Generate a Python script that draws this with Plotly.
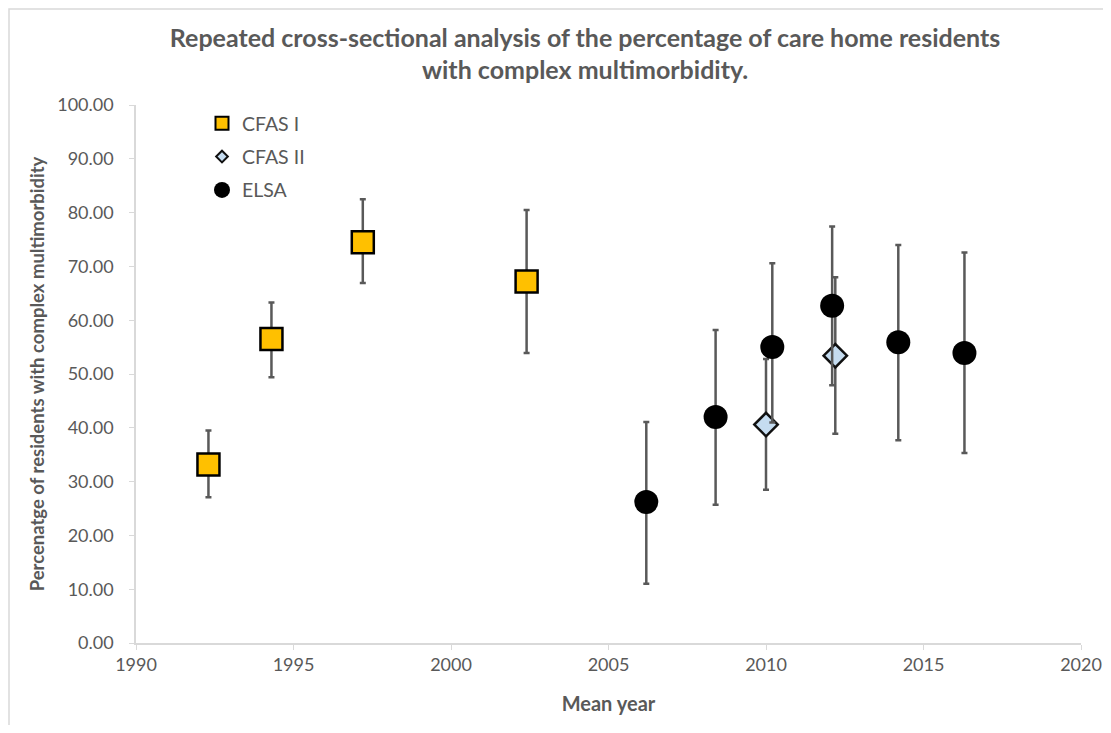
import plotly.graph_objects as go

# CFAS I
cfas1_year = [1992.3, 1994.3, 1997.2, 2002.4]
cfas1_pct = [33.2, 56.5, 74.5, 67.2]
cfas1_hi = [39.5, 63.3, 82.5, 80.5]
cfas1_lo = [27.1, 49.4, 66.9, 53.9]

# CFAS II
cfas2_year = [2010.0, 2012.2]
cfas2_pct = [40.6, 53.4]
cfas2_hi = [52.8, 68.0]
cfas2_lo = [28.5, 38.9]

# ELSA
elsa_year = [2006.2, 2008.4, 2010.2, 2012.1, 2014.2, 2016.3]
elsa_pct = [26.2, 42.0, 55.0, 62.7, 55.9, 53.9]
elsa_hi = [41.1, 58.2, 70.6, 77.4, 74.0, 72.6]
elsa_lo = [11.0, 25.7, 41.0, 47.9, 37.7, 35.3]

x_ticks = [1990, 1995, 2000, 2005, 2010, 2015, 2020]
y_ticks = [0, 10, 20, 30, 40, 50, 60, 70, 80, 90, 100]

FONT = "Lato, 'Open Sans', sans-serif"
GREY = "#595959"
ERR = "#595959"


def err(vals, hi, lo):
    return dict(
        type="data", symmetric=False,
        array=[h - v for h, v in zip(hi, vals)],
        arrayminus=[v - l for v, l in zip(vals, lo)],
        color=ERR, thickness=2.5, width=3,
    )


SQ = dict(symbol="square", color="#FFC000")
DI = dict(symbol="diamond", color="#C5DCF0")
CI = dict(symbol="circle", color="#000000")

fig = go.Figure()
fig.add_trace(go.Scatter(
    x=cfas1_year, y=cfas1_pct, mode="markers", name="CFAS I", showlegend=False,
    error_y=err(cfas1_pct, cfas1_hi, cfas1_lo),
    marker=dict(**SQ, size=22, line=dict(color="#000000", width=2.5)),
))
fig.add_trace(go.Scatter(
    x=cfas2_year, y=cfas2_pct, mode="markers", name="CFAS II", showlegend=False,
    error_y=err(cfas2_pct, cfas2_hi, cfas2_lo),
    marker=dict(**DI, size=18, line=dict(color="#111111", width=2.5)),
))
fig.add_trace(go.Scatter(
    x=elsa_year, y=elsa_pct, mode="markers", name="ELSA", showlegend=False,
    error_y=err(elsa_pct, elsa_hi, elsa_lo),
    marker=dict(**CI, size=24, line=dict(color="#000000", width=0)),
))

# legend entries
fig.add_trace(go.Scatter(x=[None], y=[None], mode="markers", name="CFAS I", legendgroup="a",
                         marker=dict(**SQ, size=13, line=dict(color="#000000", width=2))))
fig.add_trace(go.Scatter(x=[None], y=[None], mode="markers", name="CFAS II", legendgroup="b",
                         marker=dict(**DI, size=9, line=dict(color="#111111", width=2))))
fig.add_trace(go.Scatter(x=[None], y=[None], mode="markers", name="ELSA", legendgroup="c",
                         marker=dict(**CI, size=16, line=dict(color="#000000", width=0))))

W, H = 1095, 717
L, R, T, B = 128, 22, 97, 82
pw, ph = W - L - R, H - T - B

fig.update_layout(
    width=W, height=H,
    paper_bgcolor="white", plot_bgcolor="white",
    margin=dict(l=L, r=R, t=T, b=B, autoexpand=False),
    font=dict(family=FONT, color=GREY, size=18),
    title=dict(
        text="<b>Repeated cross-sectional analysis of the percentage of care home residents<br>with complex multimorbidity.</b>",
        x=0.527, xanchor="center", y=1 - 38.5 / H, yanchor="middle",
        font=dict(family=FONT, size=25, color=GREY),
    ),
    showlegend=True,
    legend=dict(
        x=(224 - 8 - 22 - L) / pw, y=1 - (104 - 8 - T) / ph, xanchor="left", yanchor="top",
        bgcolor="rgba(0,0,0,0)", font=dict(size=19.5, color=GREY),
        itemsizing="trace", tracegroupgap=5, itemwidth=30,
    ),
    xaxis=dict(
        range=[1990, 2020], tickvals=x_ticks, ticktext=[str(t) for t in x_ticks],
        showgrid=False, zeroline=False, showline=True, linecolor="#d9d9d9", linewidth=1.5,
        ticks="outside", ticklen=5, tickcolor="#d9d9d9", automargin=False,
        tickfont=dict(size=18, color=GREY),
        title=dict(text="<b>Mean year</b>", font=dict(size=20, color=GREY), standoff=23),
    ),
    yaxis=dict(
        range=[0, 100], tickvals=y_ticks, ticktext=[f"{t:.2f}" for t in y_ticks],
        showgrid=False, zeroline=False, showline=True, linecolor="#d9d9d9", linewidth=1.5,
        ticks="outside", ticklen=5, tickcolor="#d9d9d9", ticklabelstandoff=12, automargin=False,
        tickfont=dict(size=18, color=GREY),
        title=dict(text="<b>Percenatge of residents with complex multimorbidity</b>",
                   font=dict(size=18.5, color=GREY), standoff=8),
    ),
    shapes=[dict(type="rect", xref="paper", yref="paper",
                 x0=-(L - 1) / pw, x1=1.2, y0=-0.4, y1=1 + (T - 1) / ph,
                 line=dict(color="#d9d9d9", width=1.5), fillcolor="rgba(0,0,0,0)", layer="below")],
)

fig.write_html("out.html")
